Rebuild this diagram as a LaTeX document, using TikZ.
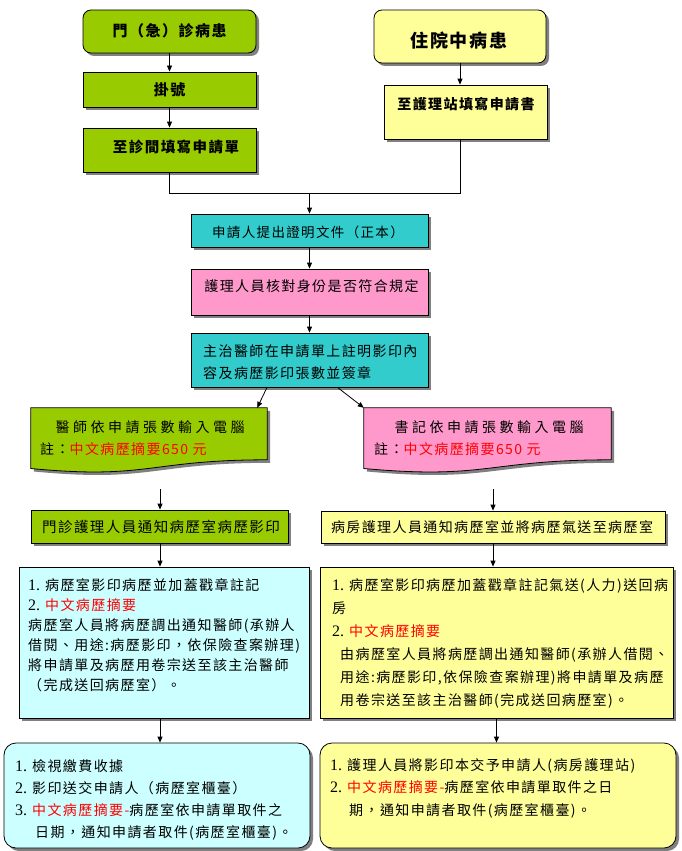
\documentclass[tikz,border=0pt]{standalone}
\usepackage{fontspec}
\setmainfont{Liberation Serif}
\newfontfamily\cjk[LetterSpace=10]{Noto Sans CJK TC}
\newfontfamily\latn{Liberation Serif}
\usetikzlibrary{shadows,arrows.meta,calc}
\definecolor{cgreen}{HTML}{99CC00}
\definecolor{cyellow}{HTML}{FFFF99}
\definecolor{cteal}{HTML}{33CCCC}
\definecolor{cpink}{HTML}{FF99CC}
\definecolor{ccyan}{HTML}{CCFFFF}
\definecolor{cred}{HTML}{FF0000}
\newcommand\redt[1]{\textcolor{cred}{#1}}
\newcommand\numb[1]{{\latn\fontsize{16}{20}\selectfont #1}\hspace{5pt}}
\begin{document}
\begin{tikzpicture}[x=1pt,y=-1pt,
  shadowed/.style={drop shadow={shadow xshift=3pt,shadow yshift=-3pt,fill=black!50,opacity=1}},
  box/.style={draw=black,line width=0.8pt,shadowed,inner sep=0pt},
  rbox/.style={box,rounded corners=8pt},
  bbox/.style={box,rounded corners=12pt},
  docshape/.style={draw=black,line width=0.8pt,shadowed},
  arr/.style={line width=0.8pt,-{Triangle[length=6pt,width=5pt]}},
  ln/.style={line width=0.8pt},
  txt/.style={inner sep=0pt,align=left,font=\cjk\fontsize{14}{20}\selectfont},
  btxt/.style={txt,font=\cjk\bfseries\fontsize{14}{20}\selectfont},
]
\useasboundingbox (0,0) rectangle (682,851);
\fill[white] (0,0) rectangle (682,851);

% ---- top left column
\node[rbox,fill=cgreen,minimum width=173pt,minimum height=43pt] (opd) at (169.5,31.5) {};
\node[btxt,font=\cjk\bfseries\fontsize{15}{18}\selectfont] (topd) at (169.5,31) {門（急）診病患};
\node[box,fill=cgreen,minimum width=173pt,minimum height=35pt] (reg) at (169.5,89.5) {};
\node[btxt,font=\cjk\bfseries\fontsize{15}{18}\selectfont] (treg) at (169.5,90) {掛號};
\node[box,fill=cgreen,minimum width=173pt,minimum height=44pt] (clinic) at (169.5,150) {};
\node[btxt,font=\cjk\bfseries\fontsize{14.5}{18}\selectfont] (tclinic) at (176,147) {至診間填寫申請單};

% ---- top right column
\node[rbox,fill=cyellow,minimum width=172pt,minimum height=53pt] (inp) at (460,36.5) {};
\node[btxt,font=\cjk\bfseries\fontsize{18}{20}\selectfont] (tinp) at (459,41) {住院中病患};
\node[box,fill=cyellow,minimum width=163pt,minimum height=54pt] (station) at (465.5,112) {};
\node[btxt] (tstation) at (466,104) {至護理站填寫申請書};

% ---- centre column
\node[box,fill=cteal,minimum width=237pt,minimum height=33pt] (req) at (309.5,230.5) {};
\node[txt,font=\cjk\fontsize{13.5}{18}\selectfont] (treq) at (308,232) {申請人提出證明文件（正本）};
\node[box,fill=cpink,minimum width=237pt,minimum height=46pt] (verify) at (309.5,292) {};
\node[txt] (tverify) at (311.5,286.5) {護理人員核對身份是否符合規定};
\node[box,fill=cteal,minimum width=237pt,minimum height=54pt] (sign) at (309.5,360) {};
\node[txt,font=\cjk\fontsize{14}{22}\selectfont,anchor=north west] (tsign) at (203,345)
  {主治醫師在申請單上註明影印內\\容及病歷影印張數並簽章};

% ---- document shapes
\node[minimum width=236pt,minimum height=65pt,inner sep=0pt] (docL) at (149,440.5) {};
\path[docshape,fill=cgreen] (docL.north west) -- (docL.north east) -- ($(docL.north east)+(0,52)$)
  .. controls ($(docL.north)+(0,52)$) and ($(docL.north)+(0,72)$) .. ($(docL.north west)+(0,60.7)$) -- cycle;
\node[txt,font=\cjk\fontsize{14}{20}\selectfont\addfontfeature{LetterSpace=25}] (tdocL1) at (150,427) {醫師依申請張數輸入電腦};
\node[txt,anchor=west] (tdocL2) at (40,449) {註：\redt{中文病歷摘要650 元}};

\node[minimum width=247pt,minimum height=65pt,inner sep=0pt] (docR) at (487.5,440.5) {};
\path[docshape,fill=cpink] (docR.north west) -- (docR.north east) -- ($(docR.north east)+(0,52)$)
  .. controls ($(docR.north)+(0,52)$) and ($(docR.north)+(0,72)$) .. ($(docR.north west)+(0,60.7)$) -- cycle;
\node[txt,font=\cjk\fontsize{14}{20}\selectfont\addfontfeature{LetterSpace=25}] (tdocR1) at (489,427) {書記依申請張數輸入電腦};
\node[txt,anchor=west] (tdocR2) at (374,449) {註：\redt{中文病歷摘要650 元}};

% ---- notify boxes
\node[box,fill=cgreen,minimum width=257pt,minimum height=33pt] (green2) at (159.5,526.5) {};
\node[txt,font=\cjk\fontsize{14.5}{20}\selectfont] (tgreen2) at (161,527) {門診護理人員通知病歷室病歷影印};
\node[box,fill=cyellow,minimum width=344pt,minimum height=32pt] (yellow2) at (493,527) {};
\node[txt] (tyellow2) at (492,527) {病房護理人員通知病歷室並將病歷氣送至病歷室};

% ---- detail boxes
\node[box,fill=ccyan,minimum width=290pt,minimum height=151pt] (cyanL) at (164,642.5) {};
\node[txt,anchor=north west] (tcyanL) at (28,578)
  {\numb{1.}病歷室影印病歷並加蓋戳章註記\\
   \numb{2.}\redt{中文病歷摘要}\\
   病歷室人員將病歷調出通知醫師(承辦人\\
   借閱、用途:病歷影印，依保險查案辦理)\\
   將申請單及病歷用卷宗送至該主治醫師\\
   （完成送回病歷室）。};
\node[box,fill=cyellow,minimum width=353pt,minimum height=151pt] (yellowR) at (496.5,642.5) {};
\node[txt,font=\cjk\fontsize{14}{23}\selectfont,anchor=north west] (tyellowR) at (332,578)
  {\numb{1.}病歷室影印病歷加蓋戳章註記氣送(人力)送回病\\
   房\\
   \numb{2.}\redt{中文病歷摘要}\\
   \hspace*{8pt}由病歷室人員將病歷調出通知醫師(承辦人借閱、\\
   \hspace*{8pt}用途:病歷影印,依保險查案辦理)將申請單及病歷\\
   \hspace*{8pt}用卷宗送至該主治醫師(完成送回病歷室)。};

% ---- final boxes
\node[bbox,fill=ccyan,minimum width=306pt,minimum height=105pt] (botL) at (157,795.5) {};
\node[txt,font=\cjk\fontsize{14}{22}\selectfont,anchor=north west] (tbotL) at (15,759)
  {\numb{1.}檢視繳費收據\\
   \numb{2.}影印送交申請人（病歷室櫃臺）\\
   \numb{3.}\redt{中文病歷摘要-}病歷室依申請單取件之\\
   \hspace*{20pt}日期，通知申請者取件(病歷室櫃臺)。};
\node[bbox,fill=cyellow,minimum width=356pt,minimum height=105pt] (botR) at (498,795.5) {};
\node[txt,font=\cjk\fontsize{14}{22.5}\selectfont,anchor=north west] (tbotR) at (330,758)
  {\numb{1.}護理人員將影印本交予申請人(病房護理站)\\
   \numb{2.}\redt{中文病歷摘要-}病歷室依申請單取件之日\\
   \hspace*{19pt}期，通知申請者取件(病歷室櫃臺)。};

% ---- connectors
\coordinate (jn) at (309.5,193);
\coordinate (gL) at (160,489);
\coordinate (gR) at (493,489);
\draw[arr] (opd.south) -- (reg.north);
\draw[arr] (reg.south) -- (clinic.north);
\draw[arr] (inp.south) -- (inp.south |- station.north);
\draw[ln] (clinic.south) |- (jn);
\draw[ln] (station.south -| inp.south) |- (jn);
\draw[arr] (jn) -- (req.north);
\draw[arr] (req.south) -- (verify.north);
\draw[arr] (verify.south) -- (sign.north);
\draw[arr] ($(sign.south)+(-42.5,0)$) -- ($(docL.north east)+(-10,0)$);
\draw[arr] ($(sign.south)+(28,0)$) -- (docR.north west);
\draw[arr] (gL) -- (gL |- green2.north);
\draw[arr] (gR) -- (gR |- yellow2.north);
\draw[arr] (gL |- green2.south) -- (gL |- cyanL.north);
\draw[arr] (gR |- yellow2.south) -- (gR |- yellowR.north);
\draw[arr] (gL |- cyanL.south) -- (gL |- botL.north);
\draw[arr] (yellowR.south) -- (yellowR.south |- botR.north);
\end{tikzpicture}
\end{document}
